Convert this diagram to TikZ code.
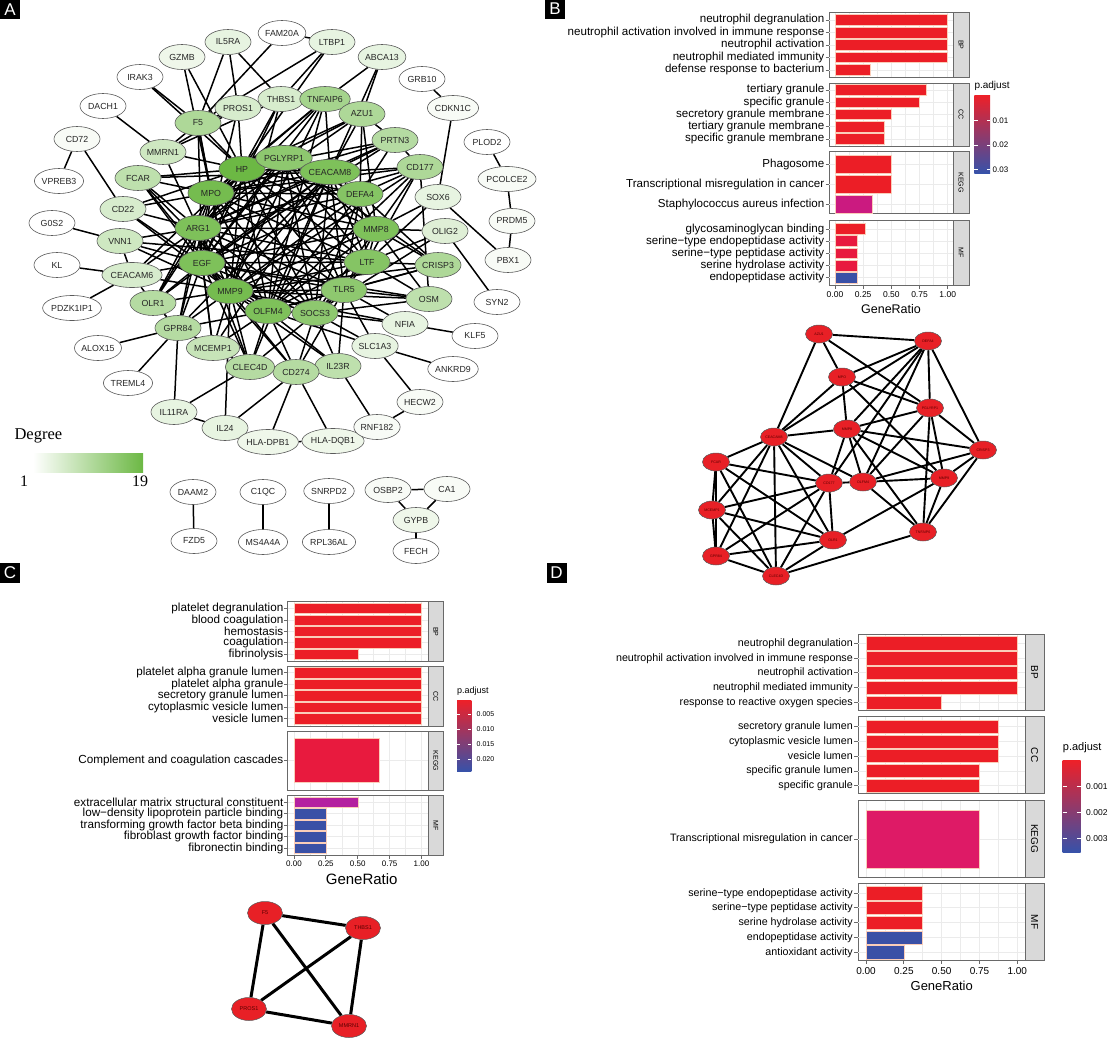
\documentclass[tikz,border=0pt]{standalone}
\usepackage{fontspec}
\setmainfont{Liberation Sans}
\newfontfamily\degfont{Liberation Serif}
\usetikzlibrary{shapes,positioning,calc,backgrounds}

\definecolor{degc}{RGB}{108,184,68}
\definecolor{edgegray}{RGB}{90,90,90}
\definecolor{bred}{RGB}{236,30,38}
\definecolor{bcrim}{RGB}{232,26,62}
\definecolor{bmag}{RGB}{203,26,128}
\definecolor{bpurp}{RGB}{180,32,160}
\definecolor{bblue}{RGB}{58,80,166}
\definecolor{dmag}{RGB}{222,26,102}
\definecolor{stripgray}{RGB}{217,217,217}
\definecolor{framegray}{RGB}{105,105,105}
\definecolor{gridgray}{RGB}{235,235,235}
\definecolor{barline}{RGB}{250,205,185}
\definecolor{netred}{RGB}{232,32,38}
\definecolor{lgred}{RGB}{238,32,40}
\definecolor{lgmag}{RGB}{196,22,142}
\definecolor{lgblue}{RGB}{54,82,170}

\tikzset{
  gene/.style={ellipse, draw=edgegray, line width=0.6pt, minimum width=46pt, minimum height=25pt,
    inner sep=0pt, text=black!85, font=\fontsize{8.8}{8.8}\selectfont},
  link/.style={line width=1.5pt},
  hub/.style={ellipse, draw=edgegray, fill=netred, line width=0.5pt, minimum width=27pt,
    minimum height=18pt, inner sep=0pt, text=red!35!black, font=\fontsize{3.6}{3.6}\selectfont},
  hubc/.style={hub, minimum width=35pt, minimum height=23pt, font=\fontsize{5.5}{5.5}\selectfont},
  panellab/.style={fill=black, text=white, minimum width=20pt, minimum height=20pt, inner sep=0pt,
    font=\fontsize{17}{17}\selectfont},
  plotbox/.style={draw=framegray, line width=0.9pt},
  stripbox/.style={draw=framegray, fill=stripgray, line width=0.9pt},
  gridline/.style={gridgray, line width=0.5pt},
  bar/.style={draw=barline, line width=0.5pt},
  axtick/.style={framegray, line width=0.8pt},
  legbar/.style={top color=lgred, middle color=lgmag, bottom color=lgblue},
}

\begin{document}
\begin{tikzpicture}[x=1pt,y=-1pt]
\useasboundingbox (0,0) rectangle (1116,1041);

% Panel letters
\node[panellab] (labA) at (10,9.5) {A};
\node[panellab] (labB) at (555,9) {B};
\node[panellab] (labC) at (10,572.5) {C};
\node[panellab] (labD) at (556.5,572.5) {D};

% A: PPI network, fill by degree
\foreach \n/\x/\y/\d in {
  IL5RA/228/42/4, FAM20A/282/33/1, LTBP1/332/42/4, ABCA13/382/57/4, GRB10/422/79/1,
  CDKN1C/453/108/2, GZMB/182/57/3, IRAK3/140/77/1, DACH1/103/106/1, CD72/77/139/2,
  VPREB3/59/181/1, G0S2/52/223/1, KL/57/265/1, PDZK1IP1/72/308/1, ALOX15/98/348/1,
  TREML4/128/383/1, IL11RA/174/412/4, IL24/225/428/4, HLA-DPB1/268/442/3, HLA-DQB1/333/441/3,
  RNF182/377/427/2, HECW2/420/402/2, ANKRD9/453/369/1, KLF5/475/336/1, SYN2/497/302/1,
  PBX1/508/260/2, PRDM5/512/221/2, PCOLCE2/507/179/2, PLOD2/487/142/1,
  PROS1/238/108/6, F5/198/123/11, THBS1/281/99/6, TNFAIP6/325/99/12, AZU1/362/114/11,
  PRTN3/395/140/10, CD177/420/167/11, SOX6/438/197/4, OLIG2/445/231/5, CRISP3/438/265/11,
  OSM/429/299/9, NFIA/405/324/4, SLC1A3/375/346/4, IL23R/338/366/9, CD274/296/372/10,
  CLEC4D/250/367/10, MCEMP1/213/348/8, GPR84/178/328/10, OLR1/153/303/10, CEACAM6/132/275/6,
  VNN1/120/241/7, CD22/123/209/6, FCAR/138/178/9, MMRN1/163/152/7,
  HP/242/169/19, PGLYRP1/284/158/15, CEACAM8/330/172/17, DEFA4/360/194/16, MMP8/376/229/17,
  LTF/367/262/16, TLR5/344/290/15, SOCS3/315/313/15, OLFM4/268/311/17, MMP9/230/291/18,
  EGF/202/263/17, ARG1/198/228/17, MPO/211/193/18,
  DAAM2/193/492/1, FZD5/194/541/1, C1QC/263/492/1, MS4A4A/263/542/1, SNRPD2/329/491/1,
  RPL36AL/329/542/1, OSBP2/388/490/2, CA1/447/489/2, GYPB/416/520/3, FECH/416/551/1}
{
  \pgfmathtruncatemacro\p{(\d-1)*100/18}
  \node[gene, fill=degc!\p!white] (\n) at (\x,\y) {\n};
}

\begin{scope}[on background layer]
  % dense core
  \foreach \ea [count=\i] in {HP,MPO,ARG1,EGF,MMP9,OLFM4,CEACAM8,DEFA4,MMP8,LTF,TLR5,SOCS3,PGLYRP1}
    \foreach \eb [count=\j] in {HP,MPO,ARG1,EGF,MMP9,OLFM4,CEACAM8,DEFA4,MMP8,LTF,TLR5,SOCS3,PGLYRP1}
      {\ifnum\j>\i \draw[link] (\ea) -- (\eb);\fi}
  % other interactions
  \foreach \ea/\eb in {
    CD72/VPREB3, CD72/CD22, DACH1/MMRN1, G0S2/VNN1, KL/CEACAM6, PDZK1IP1/CEACAM6, ALOX15/GPR84,
    TREML4/GPR84, IL11RA/GPR84, IL11RA/IL24, IL11RA/CLEC4D, IL24/MMP9, IL24/CD274,
    HLA-DPB1/HLA-DQB1, HLA-DPB1/CD274, HLA-DQB1/CD274, RNF182/IL23R, RNF182/HECW2, HECW2/SLC1A3,
    ANKRD9/SLC1A3, KLF5/NFIA, SYN2/OLIG2, PBX1/SOX6, PRDM5/PCOLCE2, PCOLCE2/PLOD2, PRDM5/PBX1,
    GRB10/CDKN1C, CDKN1C/SOX6, SOX6/MMP8, ABCA13/TNFAIP6, ABCA13/AZU1, ABCA13/CEACAM8,
    LTBP1/THBS1, LTBP1/F5, FAM20A/LTBP1, FAM20A/F5, IL5RA/F5, IL5RA/THBS1, IL5RA/PROS1,
    GZMB/HP, GZMB/MPO, IRAK3/HP, IRAK3/F5, MMRN1/F5, MMRN1/PROS1, MMRN1/THBS1, F5/PROS1,
    F5/THBS1, PROS1/THBS1, DAAM2/FZD5, C1QC/MS4A4A, SNRPD2/RPL36AL, OSBP2/CA1, OSBP2/GYPB,
    CA1/GYPB, GYPB/FECH,
    TNFAIP6/HP, TNFAIP6/MPO, TNFAIP6/ARG1, TNFAIP6/EGF, TNFAIP6/MMP9, TNFAIP6/OLFM4,
    TNFAIP6/CEACAM8, TNFAIP6/THBS1, TNFAIP6/AZU1,
    AZU1/MPO, AZU1/HP, AZU1/DEFA4, AZU1/CEACAM8, AZU1/MMP8, AZU1/ARG1, AZU1/PRTN3,
    PRTN3/MPO, PRTN3/HP, PRTN3/CEACAM8, PRTN3/DEFA4, PRTN3/ARG1, PRTN3/EGF, PRTN3/CD177,
    CD177/CEACAM8, CD177/DEFA4, CD177/MMP8, CD177/MMP9, CD177/OLFM4, CD177/ARG1, CD177/MPO, CD177/LTF,
    CRISP3/MMP8, CRISP3/LTF, CRISP3/OLFM4, CRISP3/MMP9, CRISP3/PGLYRP1, CRISP3/DEFA4, CRISP3/TLR5,
    OSM/SOCS3, OSM/TLR5, OSM/LTF, OSM/MMP9, OSM/MMP8, OSM/CD177, OSM/EGF,
    GPR84/MMP9, GPR84/OLFM4, GPR84/EGF, GPR84/ARG1, GPR84/CEACAM8, GPR84/MPO, GPR84/CLEC4D, GPR84/OLR1,
    CLEC4D/MMP9, CLEC4D/OLFM4, CLEC4D/ARG1, CLEC4D/EGF, CLEC4D/CEACAM8, CLEC4D/TLR5,
    CD274/SOCS3, CD274/TLR5, CD274/MMP9, CD274/EGF, CD274/IL23R, CD274/OLFM4,
    IL23R/SOCS3, IL23R/TLR5, IL23R/OLFM4, IL23R/MMP9,
    OLR1/EGF, OLR1/ARG1, OLR1/MMP9, OLR1/HP, OLR1/MPO, OLR1/CEACAM8, OLR1/CEACAM6,
    FCAR/HP, FCAR/MPO, FCAR/ARG1, FCAR/CEACAM8, FCAR/MMP9, FCAR/OLFM4, FCAR/EGF,
    MMRN1/HP, MMRN1/ARG1,
    MCEMP1/MMP9, MCEMP1/CEACAM8, MCEMP1/OLFM4, MCEMP1/ARG1, MCEMP1/EGF, MCEMP1/CLEC4D,
    CD22/HP, CD22/MPO, CD22/ARG1, CD22/EGF, CD22/MMP9,
    VNN1/ARG1, VNN1/EGF, VNN1/MMP9, VNN1/LTF, VNN1/CEACAM6,
    CEACAM6/EGF, CEACAM6/ARG1, CEACAM6/MMP9, CEACAM6/HP,
    F5/HP, F5/MPO, F5/EGF, F5/MMP9, PROS1/HP, PROS1/EGF, THBS1/HP, THBS1/EGF, THBS1/MMP9,
    SOX6/LTF, OLIG2/LTF, OLIG2/MMP8, OLIG2/SOCS3, NFIA/TLR5, NFIA/SOCS3, NFIA/MMP9,
    SLC1A3/SOCS3, SLC1A3/TLR5, SLC1A3/OLFM4, LTBP1/HP}
    \draw[link] (\ea) -- (\eb);
\end{scope}

% Degree legend
\node[anchor=west, font=\degfont\fontsize{16.5}{16.5}\selectfont] (degT) at (11,436) {Degree};
\shade[left color=white, right color=degc] (33,453) rectangle (143,472);
\node[font=\degfont\fontsize{16}{16}\selectfont] (deg1) at (24,481) {1};
\node[font=\degfont\fontsize{16}{16}\selectfont] (deg19) at (140,481) {19};

% B: enrichment bars
\foreach \t/\bt/\s [count=\i] in {12.7/77.3/BP, 83.3/146.7/CC, 151.7/213.3/KEGG, 220/285/MF} {
  \foreach \g in {0,0.125,...,1.1} \draw[gridline] ({835+112.7*\g},\t) -- ({835+112.7*\g},\bt);
  \draw[plotbox] (829.3,\t) rectangle (953,\bt);
  \draw[stripbox] (953,\t) rectangle (969,\bt);
  \node[rotate=-90, font=\fontsize{7}{7}\selectfont] (bs\i) at (961,{(\t+\bt)/2}) {\s};
}
\foreach \y/\v/\c/\h/\l [count=\i] in {
  20/1/bred/5.3/neutrophil degranulation,
  32.7/1/bred/5.3/neutrophil activation involved in immune response,
  45/1/bred/5.3/neutrophil activation,
  57.3/1/bred/5.3/neutrophil mediated immunity,
  70/0.31/bred/5.3/defense response to bacterium,
  90/0.81/bred/5.3/tertiary granule,
  102.3/0.75/bred/5.3/specific granule,
  114.3/0.5/bred/5.3/secretory granule membrane,
  126.7/0.44/bred/5.3/tertiary granule membrane,
  139/0.44/bred/5.3/specific granule membrane,
  164/0.5/bred/9/Phagosome,
  184/0.5/bred/9/Transcriptional misregulation in cancer,
  204/0.33/bmag/9/Staphylococcus aureus infection,
  229/0.27/bred/5.3/glycosaminoglycan binding,
  241/0.2/bcrim/5.3/serine−type endopeptidase activity,
  253.3/0.2/bcrim/5.3/serine−type peptidase activity,
  265.7/0.2/bcrim/5.3/serine hydrolase activity,
  277.7/0.2/bblue/5.3/endopeptidase activity}
{
  \draw[gridline] (829.3,\y) -- (953,\y);
  \filldraw[bar, fill=\c] (835,\y-\h) rectangle ({835+112.7*\v},\y+\h);
  \draw[axtick] (825.5,\y) -- (829.3,\y);
  \node[anchor=east, inner sep=0pt, font=\fontsize{11.6}{11.6}\selectfont] (bl\i) at (824.5,\y) {\l};
}
\foreach \g/\s [count=\i] in {0/0.00, 0.25/0.25, 0.5/0.50, 0.75/0.75, 1/1.00} {
  \draw[axtick] ({835+112.7*\g},285) -- ({835+112.7*\g},289);
  \node[font=\fontsize{8.5}{8.5}\selectfont] (bx\i) at ({835+112.7*\g},295) {\s};
}
\node[font=\fontsize{12.5}{12.5}\selectfont] (bgr) at (891,309) {GeneRatio};
\node[anchor=west, inner sep=0pt, font=\fontsize{10}{10}\selectfont] (bpadj) at (974.3,85.7) {p.adjust};
\shade[legbar] (974.3,95) rectangle (990,173.3);
\foreach \y/\s [count=\i] in {120.7/0.01, 145/0.02, 169.3/0.03} {
  \draw[white, line width=0.6pt] (974.3,\y) -- (977.5,\y) (986.8,\y) -- (990,\y);
  \node[anchor=west, inner sep=0pt, font=\fontsize{8}{8}\selectfont] (bk\i) at (992.5,\y) {\s};
}

% B: neutrophil sub-network
\foreach \l/\x/\y in {AZU1/819/334, DEFA4/928/341, MPO/842/377, PGLYRP1/930/408, MMP8/847/429,
  CEACAM8/774/437, CRISP3/983/450, FCAR/716/462, CD177/829/483, OLFM4/863/482, MMP9/944/478,
  MCEMP1/712/510, GPR84/716/556, OLR1/833/540, TNFAIP6/923/532, CLEC4D/776/576}
  \node[hub] (b\l) at (\x,\y) {\l};
\begin{scope}[on background layer]
  \foreach \ea/\eb in {AZU1/DEFA4, AZU1/MPO, AZU1/CEACAM8, AZU1/PGLYRP1,
    DEFA4/MPO, DEFA4/CEACAM8, DEFA4/MMP8, DEFA4/PGLYRP1, DEFA4/CRISP3, DEFA4/OLFM4, DEFA4/CD177,
    MPO/CEACAM8, MPO/MMP8, MPO/PGLYRP1, MPO/MMP9,
    PGLYRP1/MMP8, PGLYRP1/CRISP3, PGLYRP1/MMP9, PGLYRP1/TNFAIP6, PGLYRP1/OLFM4,
    MMP8/CEACAM8, MMP8/CRISP3, MMP8/CD177, MMP8/OLFM4, MMP8/MMP9, MMP8/TNFAIP6,
    CEACAM8/FCAR, CEACAM8/CD177, CEACAM8/OLR1, CEACAM8/CLEC4D, CEACAM8/GPR84, CEACAM8/MCEMP1,
    CEACAM8/OLFM4, CRISP3/MMP9, CRISP3/TNFAIP6, CRISP3/OLFM4, OLFM4/MMP9, OLFM4/CD177,
    OLFM4/TNFAIP6, MMP9/TNFAIP6, MMP9/OLR1, CD177/OLR1, CD177/FCAR, CD177/MCEMP1, CD177/GPR84,
    CD177/CLEC4D, FCAR/OLR1, FCAR/GPR84, FCAR/CLEC4D, FCAR/MCEMP1, OLR1/GPR84, OLR1/CLEC4D,
    OLR1/MCEMP1, TNFAIP6/CLEC4D, GPR84/CLEC4D, GPR84/MCEMP1, MCEMP1/CLEC4D}
    \draw[line width=1.9pt] (b\ea) -- (b\eb);
\end{scope}

% C: enrichment bars
\foreach \t/\bt/\s [count=\i] in {601.7/661.7/BP, 666.7/726/CC, 731/790.7/KEGG, 795.3/855.7/MF} {
  \foreach \g in {0,0.125,...,1.1} \draw[gridline] ({294+127.5*\g},\t) -- ({294+127.5*\g},\bt);
  \draw[plotbox] (287.5,\t) rectangle (428.3,\bt);
  \draw[stripbox] (428.3,\t) rectangle (443,\bt);
  \node[rotate=-90, font=\fontsize{7}{7}\selectfont] (cs\i) at (435.7,{(\t+\bt)/2}) {\s};
}
\foreach \y/\v/\c/\h/\l [count=\i] in {
  608.3/1/bred/5.1/platelet degranulation,
  620/1/bred/5.1/blood coagulation,
  631.3/1/bred/5.1/hemostasis,
  642.7/1/bred/5.1/coagulation,
  654/0.5/bred/5.1/fibrinolysis,
  672.7/1/bred/5.1/platelet alpha granule lumen,
  684.3/1/bred/5.1/platelet alpha granule,
  695.7/1/bred/5.1/secretory granule lumen,
  707/1/bred/5.1/cytoplasmic vesicle lumen,
  718.7/1/bred/5.1/vesicle lumen,
  760.5/0.667/bcrim/22.2/Complement and coagulation cascades,
  802.3/0.5/bpurp/5.1/extracellular matrix structural constituent,
  813.7/0.25/bblue/5.1/low−density lipoprotein particle binding,
  825.3/0.25/bblue/5.1/transforming growth factor beta binding,
  836.7/0.25/bblue/5.1/fibroblast growth factor binding,
  848.3/0.25/bblue/5.1/fibronectin binding}
{
  \draw[gridline] (287.5,\y) -- (428.3,\y);
  \filldraw[bar, fill=\c] (294,\y-\h) rectangle ({294+127.5*\v},\y+\h);
  \draw[axtick] (284,\y) -- (287.5,\y);
  \node[anchor=east, inner sep=0pt, font=\fontsize{11.7}{11.7}\selectfont] (cl\i) at (283.5,\y) {\l};
}
\foreach \g/\s [count=\i] in {0/0.00, 0.25/0.25, 0.5/0.50, 0.75/0.75, 1/1.00} {
  \draw[axtick] ({294+127.5*\g},855.7) -- ({294+127.5*\g},859);
  \node[font=\fontsize{8}{8}\selectfont] (cx\i) at ({294+127.5*\g},863.5) {\s};
}
\node[font=\fontsize{15}{15}\selectfont] (cgr) at (361.7,879) {GeneRatio};
\node[anchor=west, inner sep=0pt, font=\fontsize{9}{9}\selectfont] (cpadj) at (457,690.7) {p.adjust};
\shade[legbar] (457,700) rectangle (471.4,771.7);
\foreach \y/\s [count=\i] in {714.3/0.005, 729.3/0.010, 744/0.015, 759/0.020} {
  \draw[white, line width=0.6pt] (457,\y) -- (460,\y) (468.4,\y) -- (471.4,\y);
  \node[anchor=west, inner sep=0pt, font=\fontsize{7}{7}\selectfont] (ck\i) at (476.5,\y) {\s};
}

% C: coagulation sub-network
\node[hubc] (cF5) at (265,913) {F5};
\node[hubc] (cTHBS1) at (363,928) {THBS1};
\node[hubc] (cPROS1) at (249,1009) {PROS1};
\node[hubc] (cMMRN1) at (349,1026) {MMRN1};
\begin{scope}[on background layer]
  \foreach \ea/\eb in {F5/THBS1, F5/PROS1, F5/MMRN1, THBS1/PROS1, THBS1/MMRN1, PROS1/MMRN1}
    \draw[line width=3pt] (c\ea) -- (c\eb);
\end{scope}

% D: enrichment bars
\foreach \t/\bt/\s [count=\i] in {634/710.7/BP, 716.7/793.3/CC, 800/877.3/KEGG, 883.3/960.7/MF} {
  \foreach \g in {0,0.125,...,1.1} \draw[gridline] ({866+151.3*\g},\t) -- ({866+151.3*\g},\bt);
  \draw[plotbox] (858.3,\t) rectangle (1025,\bt);
  \draw[stripbox] (1025,\t) rectangle (1044,\bt);
  \node[rotate=-90, font=\fontsize{10}{10}\selectfont] (ds\i) at (1034.5,{(\t+\bt)/2}) {\s};
}
\foreach \y/\v/\c/\h/\l [count=\i] in {
  643.3/1/bred/6.6/neutrophil degranulation,
  658.3/1/bred/6.6/neutrophil activation involved in immune response,
  672.7/1/bred/6.6/neutrophil activation,
  687.7/1/bred/6.6/neutrophil mediated immunity,
  702.7/0.5/bred/6.6/response to reactive oxygen species,
  726.7/0.875/bred/6.6/secretory granule lumen,
  741.7/0.875/bred/6.6/cytoplasmic vesicle lumen,
  756/0.875/bred/6.6/vesicle lumen,
  771/0.75/bred/6.6/specific granule lumen,
  785.7/0.75/bred/6.6/specific granule,
  839/0.75/dmag/28.8/Transcriptional misregulation in cancer,
  893.3/0.375/bred/6.6/serine−type endopeptidase activity,
  907.7/0.375/bred/6.6/serine−type peptidase activity,
  922.7/0.375/bred/6.6/serine hydrolase activity,
  937.7/0.375/bblue/6.6/endopeptidase activity,
  952.3/0.25/bblue/6.6/antioxidant activity}
{
  \draw[gridline] (858.3,\y) -- (1025,\y);
  \filldraw[bar, fill=\c] (866,\y-\h) rectangle ({866+151.3*\v},\y+\h);
  \draw[axtick] (854,\y) -- (858.3,\y);
  \node[anchor=east, inner sep=0pt, font=\fontsize{10.7}{10.7}\selectfont] (dl\i) at (853,\y) {\l};
}
\foreach \g/\s [count=\i] in {0/0.00, 0.25/0.25, 0.5/0.50, 0.75/0.75, 1/1.00} {
  \draw[axtick] ({866+151.3*\g},960.7) -- ({866+151.3*\g},964);
  \node[font=\fontsize{10}{10}\selectfont] (dx\i) at ({866+151.3*\g},971) {\s};
}
\node[font=\fontsize{13}{13}\selectfont] (dgr) at (941.7,986) {GeneRatio};
\node[anchor=west, inner sep=0pt, font=\fontsize{11}{11}\selectfont] (dpadj) at (1062.7,747.7) {p.adjust};
\shade[legbar] (1062.7,760) rectangle (1080.7,852.7);
\foreach \y/\s [count=\i] in {786.7/0.001, 812.3/0.002, 838.3/0.003} {
  \draw[white, line width=0.6pt] (1062.7,\y) -- (1066.5,\y) (1076.9,\y) -- (1080.7,\y);
  \node[anchor=west, inner sep=0pt, font=\fontsize{8.5}{8.5}\selectfont] (dk\i) at (1086,\y) {\s};
}
\end{tikzpicture}
\end{document}
